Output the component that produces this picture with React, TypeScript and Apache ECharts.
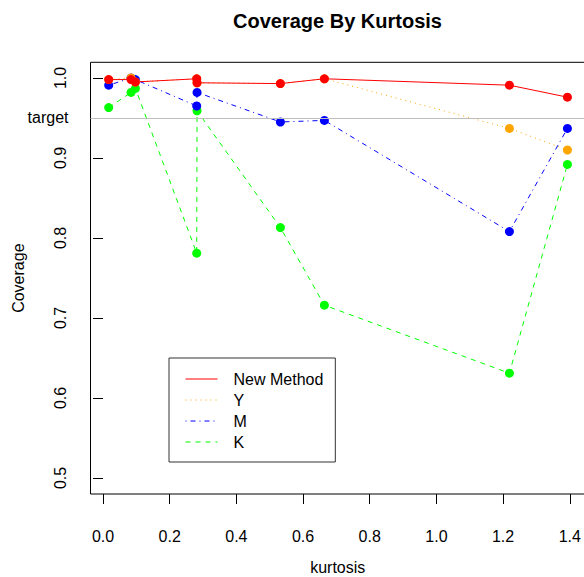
import React, { useEffect, useRef } from "react";
import * as echarts from "echarts";

const kurtosis = [0.017, 0.084, 0.097, 0.281, 0.282, 0.532, 0.664, 1.219, 1.393];
const newMethod = [0.998, 0.998, 0.995, 0.999, 0.994, 0.993, 0.999, 0.991, 0.976];
const yMethod = [0.998, 1.0, 0.995, 0.999, 0.994, 0.993, 0.999, 0.937, 0.91];
const mMethod = [0.991, 1.0, 0.998, 0.965, 0.982, 0.945, 0.947, 0.808, 0.937];
const kMethod = [0.963, 0.982, 0.987, 0.781, 0.959, 0.813, 0.716, 0.631, 0.892];
const xTicks = [0, 0.2, 0.4, 0.6, 0.8, 1.0, 1.2, 1.4];
const yTicks = [0.5, 0.6, 0.7, 0.8, 0.9, 1.0];
const targetValue = 0.95;

const FONT = "Liberation Sans";

function pairs(ys: number[]) {
  return kurtosis.map((x, i) => [x, ys[i]]);
}

export default function App() {
  const ref = useRef<HTMLDivElement>(null);
  useEffect(() => {
    if (!ref.current) return;
    const chart = echarts.init(ref.current, null, { renderer: "svg" });
    const mk = (name: string, data: number[], color: string, type: any, extra: any = {}) => ({
      name,
      type: "line",
      data: pairs(data),
      symbol: "circle",
      symbolSize: 9,
      showSymbol: true,
      itemStyle: { color },
      lineStyle: { color, width: 1, type },
      ...extra,
    });
    chart.setOption({
      animation: false,
      textStyle: { fontFamily: FONT },
      title: {
        text: "Coverage By Kurtosis",
        left: 233,
        top: 11,
        padding: 0,
        textStyle: { fontFamily: FONT, fontSize: 20, fontWeight: "bold", color: "#000" },
      },
      legend: {
        orient: "vertical",
        left: 169,
        top: 358,
        padding: [13, 12, 12, 16],
        itemWidth: 32,
        itemHeight: 14,
        itemGap: 5,
        borderColor: "#333",
        borderWidth: 1,
        borderRadius: 0,
        itemStyle: { opacity: 0 },
        lineStyle: { width: 1 },
        textStyle: { fontFamily: FONT, fontSize: 16, color: "#000", padding: [0, 0, 0, 11] },
        data: ["New Method", "Y", "M", "K"],
      },
      grid: {
        left: 90.5,
        right: -1,
        top: 62.3,
        bottom: 83,
        show: true,
        borderColor: "#000",
        borderWidth: 1,
        containLabel: false,
        outerBoundsMode: "none",
      },
      xAxis: {
        type: "value",
        min: -0.0376,
        max: 1.4457,
        name: "kurtosis",
        nameLocation: "middle",
        nameGap: 65,
        nameTextStyle: { fontFamily: FONT, fontSize: 16, color: "#000" },
        axisLine: { show: false },
        axisTick: { show: true, length: 10, lineStyle: { color: "#000" }, customValues: xTicks },
        axisLabel: {
          fontFamily: FONT,
          fontSize: 16,
          color: "#000",
          margin: 34,
          customValues: xTicks,
          formatter: (v: number) => v.toFixed(1),
        },
        splitLine: { show: false },
      },
      yAxis: {
        type: "value",
        min: 0.48,
        max: 1.0196,
        name: "Coverage",
        nameLocation: "middle",
        nameGap: 64,
        nameTextStyle: { fontFamily: FONT, fontSize: 16, color: "#000" },
        axisLine: { show: false },
        axisTick: { show: true, length: 10, lineStyle: { color: "#000" }, customValues: yTicks },
        axisLabel: {
          fontFamily: FONT,
          fontSize: 16,
          color: "#000",
          rotate: 90,
          margin: 22,
          customValues: yTicks,
          formatter: (v: number) => v.toFixed(1),
        },
        splitLine: { show: false },
      },
      series: [
        mk("K", kMethod, "#00FF00", [5, 5], {
          markLine: {
            silent: true,
            symbol: "none",
            lineStyle: { color: "#bebebe", type: "solid", width: 1 },
            label: {
              show: true,
              position: "start",
              formatter: "target",
              fontFamily: FONT,
              fontSize: 16,
              color: "#000",
              distance: 22,
            },
            data: [{ yAxis: targetValue }],
          },
        }),
        mk("M", mMethod, "#0000FF", [1, 4, 5, 4]),
        mk("Y", yMethod, "#FFA500", [1, 4]),
        mk("New Method", newMethod, "#FF0000", "solid"),
      ],
    });
    return () => chart.dispose();
  }, []);
  return (
    <div
      ref={ref}
      style={{ position: "fixed", left: 0, top: 0, width: 584, height: 577, background: "#fff" }}
    />
  );
}
